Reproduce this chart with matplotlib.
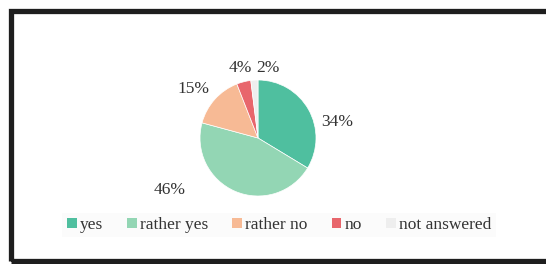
import matplotlib
matplotlib.use("Agg")
import matplotlib.pyplot as plt
from matplotlib.patches import Rectangle, Patch

categories = ["yes", "rather yes", "rather no", "no", "not answered"]
values = [34, 46, 15, 4, 2]
pct_labels = ["34%", "46%", "15%", "4%", "2%"]
colors = ["#4fbf9f", "#93d6b4", "#f7ba95", "#e8666c", "#eeeeee"]
# label offsets in pie-radius units
label_pos = [(1.36, 0.28), (-1.52, -0.90), (-1.12, 0.84), (-0.31, 1.21), (0.17, 1.21)]

W, H = 546, 264
fig = plt.figure(figsize=(W / 100, H / 100), dpi=100)
fig.patch.set_facecolor("white")

cx, cy, r = 258, 138, 58
ax = fig.add_axes([0, 0, 1, 1])

wedges, _ = ax.pie(values, colors=colors, startangle=90, counterclock=False,
                   radius=1, center=(0, 0), frame=True,
                   wedgeprops=dict(edgecolor="white", linewidth=0.5))
ax.set_xlim(-cx / r, (W - cx) / r)
ax.set_ylim(-(H - cy) / r, cy / r)
ax.set_aspect("auto")
ax.axis("off")

font = "Liberation Serif"
for lab, (x, y) in zip(pct_labels, label_pos):
    ax.text(x, y, lab, ha="center", va="center", fontsize=12.5,
            family=font, color="#333333")

# legend
handles = [Patch(facecolor=c, edgecolor="none") for c in colors]
leg = fig.legend(handles, categories, loc="center", ncol=5,
                 bbox_to_anchor=(279 / W, 1 - 225 / H),
                 frameon=True, fancybox=False,
                 prop={"family": font, "size": 12.5},
                 handlelength=0.57, handleheight=0.57, handletextpad=0.18,
                 columnspacing=1.38, borderpad=0.25, borderaxespad=0)
leg.get_frame().set_facecolor("#fafafa")
leg.get_frame().set_edgecolor("none")
for t in leg.get_texts():
    t.set_color("#333333")

# outer dark frame
fig.patches.append(Rectangle((10.5 / W, 1 - 261 / H), (W + 20) / W, (261 - 10.5) / H,
                             transform=fig.transFigure, fill=False,
                             edgecolor="#1e1e1e", linewidth=3.8))

fig.savefig("out.png", dpi=100)
